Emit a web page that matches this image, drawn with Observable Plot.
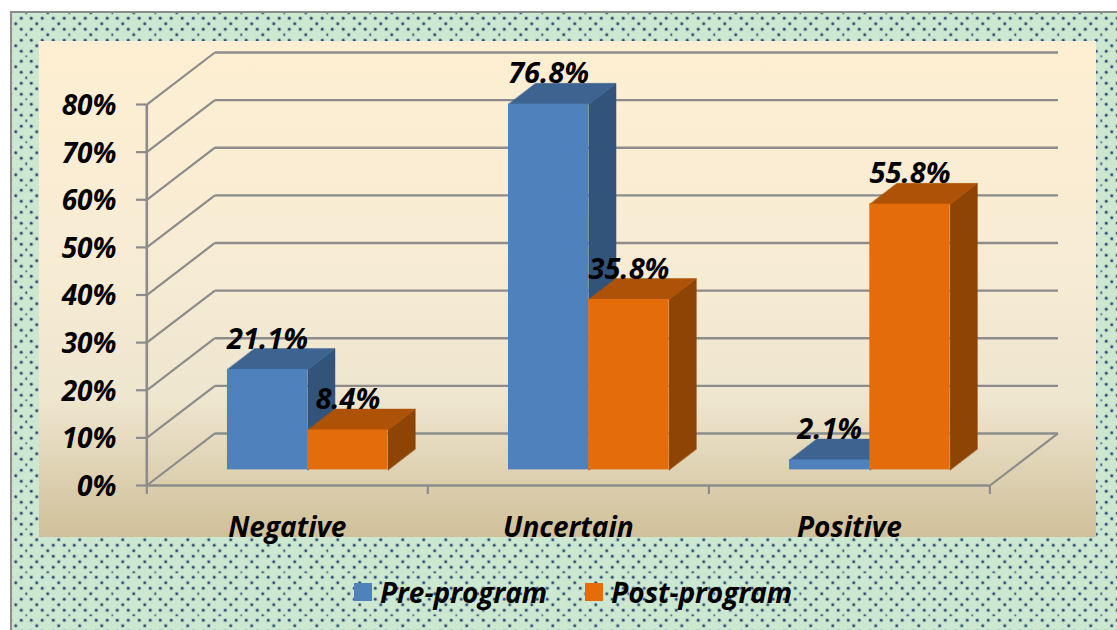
<!DOCTYPE html>
<html>
<head>
<meta charset="utf-8">
<script src="https://cdn.jsdelivr.net/npm/d3@7"></script>
<script src="https://cdn.jsdelivr.net/npm/@observablehq/plot@0.6"></script>
<style>
html,body{margin:0;padding:0;background:#fff;width:1117px;height:630px;overflow:hidden;}
#frame{position:absolute;left:10px;top:11px;width:1107px;height:619px;box-sizing:border-box;border:2.5px solid #8c8c8c;border-right:none;border-bottom:none;
background-color:#CDE8D0;
background-image:url("data:image/svg+xml,%3Csvg xmlns='http://www.w3.org/2000/svg' width='21.5' height='21.5'%3E%3Cg fill='%2386a0ac' fill-opacity='.55'%3E%3Ccircle cx='2.69' cy='2.69' r='2.2'/%3E%3Ccircle cx='8.06' cy='8.06' r='2.2'/%3E%3Ccircle cx='18.81' cy='8.06' r='2.2'/%3E%3Ccircle cx='13.44' cy='13.44' r='2.2'/%3E%3Ccircle cx='8.06' cy='18.81' r='2.2'/%3E%3Ccircle cx='18.81' cy='18.81' r='2.2'/%3E%3C/g%3E%3Cg fill='%232f4d72'%3E%3Ccircle cx='2.69' cy='2.69' r='1.2'/%3E%3Ccircle cx='8.06' cy='8.06' r='1.2'/%3E%3Ccircle cx='18.81' cy='8.06' r='1.2'/%3E%3Ccircle cx='13.44' cy='13.44' r='1.2'/%3E%3Ccircle cx='8.06' cy='18.81' r='1.2'/%3E%3Ccircle cx='18.81' cy='18.81' r='1.2'/%3E%3C/g%3E%3C/svg%3E");
background-size:21.5px 21.5px;background-position:0.8px 8.3px;}
#panel{position:absolute;left:39px;top:41px;width:1057px;height:496px;
background:linear-gradient(180deg,#FEEFD2 0%,#F8ECD4 40%,#EFE6CF 72%,#D0C09A 100%);}
#chart{position:absolute;left:0;top:0;}
#legend{position:absolute;left:354px;top:574px;height:36px;display:flex;align-items:center;font:italic 700 28px "Open Sans",sans-serif;color:#000;white-space:nowrap;}
#legend i{display:inline-block;width:18px;height:18px;margin-right:8px;}
#legend span{display:inline-flex;align-items:center;margin-right:38px;}
</style>
</head>
<body>
<div id="frame"></div>
<div id="panel"></div>
<div id="chart"></div>
<div id="legend"></div>
<script>
const categories = ["Negative", "Uncertain", "Positive"];
const preProgram = [21.1, 76.8, 2.1];
const postProgram = [8.4, 35.8, 55.8];
const seriesNames = ["Pre-program", "Post-program"];
const yTicks = [0, 10, 20, 30, 40, 50, 60, 70, 80];
const frontColors = ["#4F81BD", "#E46C0A"];
const topColors = ["#3D6491", "#AD5207"];
const sideColors = ["#32547B", "#8E4405"];

// Oblique projection: depth 0..1 shifts a point right and up in data units
const depthX = 0.2423, depthY = 10.92;
const barWidth = 0.2857, gap = 0.2143;
const barDepthStart = 0.3, barDepthEnd = 0.7;
const px = (c, d) => c + d * depthX;
const py = (v, d) => v + d * depthY;

const labels = [];
const polys = [];
categories.forEach((cat, i) => {
  [preProgram[i], postProgram[i]].forEach((v, s) => {
    const c0 = i + gap + s * barWidth, c1 = c0 + barWidth;
    const a = barDepthStart, b = barDepthEnd;
    const id = cat + s;
    const top = [[c0,v,a],[c1,v,a],[c1,v,b],[c0,v,b]].map(([c,val,d]) => ({id: id+"t", x: px(c,d), y: py(val,d), fill: topColors[s]}));
    const side = [[c1,0,a],[c1,v,a],[c1,v,b],[c1,0,b]].map(([c,val,d]) => ({id: id+"s", x: px(c,d), y: py(val,d), fill: sideColors[s]}));
    const front = {x1: px(c0,a), x2: px(c1,a), y1: py(0,a), y2: py(v,a), fill: frontColors[s]};
    polys.push({top, side, front});
    labels.push({x: px((c0+c1)/2, a), y: py(v, a), text: v.toFixed(1) + "%"});
  });
});

const gridGray = "#8C8C8C";
const font = '"Open Sans", sans-serif';
const wallLines = yTicks.map(t => ({x1: px(0,1), x2: px(3,1), y1: py(t,1), y2: py(t,1)}));
const sideLines = yTicks.map(t => ({x1: px(0,0), x2: px(0,1), y1: py(t,0), y2: py(t,1)}));
const floorEdge = [{x1: px(3,0), x2: px(3,1), y1: py(0,0), y2: py(0,1)}];

const marks = [
  Plot.link(wallLines, {x1:"x1", x2:"x2", y1:"y1", y2:"y2", stroke: gridGray, strokeWidth: 2.4}),
  Plot.link(sideLines, {x1:"x1", x2:"x2", y1:"y1", y2:"y2", stroke: gridGray, strokeWidth: 2.2}),
  Plot.link(floorEdge, {x1:"x1", x2:"x2", y1:"y1", y2:"y2", stroke: gridGray, strokeWidth: 2.2}),
  Plot.ruleX([0], {y1: 0, y2: 80, stroke: gridGray, strokeWidth: 2.6}),
  Plot.ruleY([0], {x1: 0, x2: 3, stroke: gridGray, strokeWidth: 2.6}),
  Plot.axisY({ticks: yTicks, tickSize: 10, tickFormat: () => "", stroke: gridGray, strokeWidth: 2.2, label: null}),
  Plot.axisY({ticks: yTicks, tickSize: 0, tickPadding: 30, dy: 1.5, tickFormat: d => d + "%",
    fontSize: 28, fontFamily: font, fontStyle: "italic", fontWeight: 700, fill: "#000", label: null}),
  Plot.axisX({ticks: [0,1,2,3], tickSize: 9, tickFormat: () => "", stroke: gridGray, strokeWidth: 2.2, label: null}),
  Plot.axisX({ticks: [0.5,1.5,2.5], tickSize: 0, tickPadding: 32, tickFormat: d => categories[Math.floor(d)],
    fontSize: 28, fontFamily: font, fontStyle: "italic", fontWeight: 700, fill: "#000", label: null})
];
polys.forEach(p => {
  marks.push(Plot.line(p.side, {x:"x", y:"y", z:"id", fill:"fill", stroke:"fill", strokeWidth:0.5, curve:"linear-closed"}));
  marks.push(Plot.line(p.top, {x:"x", y:"y", z:"id", fill:"fill", stroke:"fill", strokeWidth:0.5, curve:"linear-closed"}));
  marks.push(Plot.rect([p.front], {x1:"x1", x2:"x2", y1:"y1", y2:"y2", fill:"fill", inset:0}));
});
marks.push(Plot.text(labels, {x:"x", y:"y", text:"text", dy:-30, fontSize:29, fontFamily:font, fontStyle:"italic", fontWeight:700, fill:"#000"}));

const svg = Plot.plot({
  width: 1117, height: 537,
  marginLeft: 146, marginRight: 59, marginTop: 52, marginBottom: 52,
  x: {type:"linear", domain:[0, 3 + depthX], range:[146.3,1057.5]},
  y: {type:"linear", domain:[0, 80 + depthY], range:[485,52]},
  style: {background:"transparent", overflow:"visible"},
  marks
});
document.getElementById("chart").appendChild(svg);

const legend = document.getElementById("legend");
seriesNames.forEach((n,i) => {
  const s = document.createElement("span");
  const k = document.createElement("i");
  k.style.background = frontColors[i];
  s.appendChild(k);
  s.appendChild(document.createTextNode(n));
  legend.appendChild(s);
});
</script>
</body>
</html>
